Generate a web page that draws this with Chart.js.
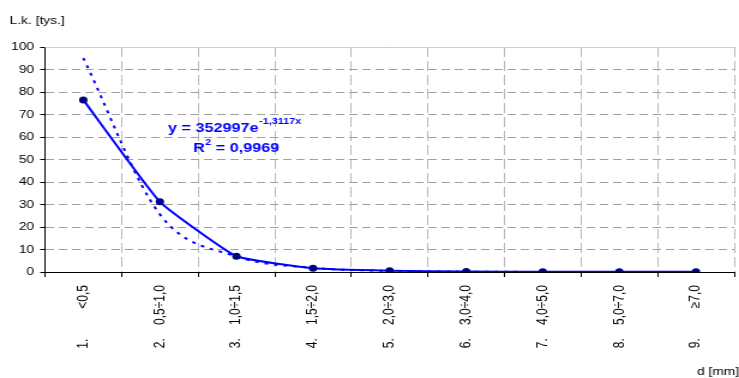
<!DOCTYPE html>
<html>
<head>
<meta charset="utf-8">
<script src="https://cdn.jsdelivr.net/npm/chart.js@4/dist/chart.umd.min.js"></script>
<style>
  html, body { margin: 0; padding: 0; background: #fff; overflow: hidden; }
  #wrap { width: 616px; height: 378px; transform: scaleX(1.1997); transform-origin: 0 0; }
</style>
</head>
<body>
<div id="wrap"><canvas id="chart" width="616" height="378"></canvas></div>
<script>
// Diameter classes and their ordinal numbers
const classNumbers = ['1.', '2.', '3.', '4.', '5.', '6.', '7.', '8.', '9.'];
const categories = ['<0,5', '0,5÷1,0', '1,0÷1,5', '1,5÷2,0', '2,0÷3,0', '3,0÷4,0', '4,0÷5,0', '5,0÷7,0', '≥7,0'];

// Count per class, thousands
const counts = [76.5, 31.2, 7.0, 1.7, 0.6, 0.2, 0.1, 0.1, 0.1];

// Exponential trend y = 352997·e^(-1,3117x), in thousands, at x = 1..9
const trendValues = [95.1, 25.6, 6.9, 1.86, 0.50, 0.14, 0.04, 0.01, 0.003];

// Trend equation and fit quality
const fitFactor = '352997';
const fitExponent = '-1,3117x';
const fitR2 = '0,9969';

// Axis titles and value ticks
const yAxisTitle = 'L.k. [tys.]';
const xAxisTitle = 'd [mm]';
const yMin = 0, yMax = 100, yStep = 10;

const FONT = '"Liberation Sans", Arial, sans-serif';
const BLUE = '#0000ff';

// Pad ordinal and class range apart so every label has a similar length
const measureCtx = document.createElement('canvas').getContext('2d');
measureCtx.font = '12px ' + FONT;
function classLabel(i) {
  const head = classNumbers[i], tail = categories[i];
  const spaceW = measureCtx.measureText(' ').width;
  const used = measureCtx.measureText(head + tail).width;
  const n = Math.max(3, Math.round((64 - used) / spaceW));
  return head + ' '.repeat(n) + tail;
}

const textPlugin = {
  id: 'chartTexts',
  beforeDatasetsDraw(chart) {
    // faint frame line along the top of the plot
    const { ctx, chartArea: a } = chart;
    ctx.save();
    ctx.strokeStyle = '#cfcfcf';
    ctx.lineWidth = 1;
    ctx.beginPath();
    ctx.moveTo(a.left, Math.round(a.top) + 0.5);
    ctx.lineTo(a.right, Math.round(a.top) + 0.5);
    ctx.stroke();
    ctx.restore();
  },
  afterDraw(chart) {
    const ctx = chart.ctx;
    ctx.save();
    ctx.fillStyle = '#000';
    ctx.textBaseline = 'alphabetic';
    ctx.textAlign = 'left';
    ctx.font = '11.5px ' + FONT;
    ctx.fillText(yAxisTitle, 8, 24);
    ctx.fillText(xAxisTitle, 581, 375);

    // trend equation
    ctx.fillStyle = BLUE;
    const big = 'bold 13.5px ' + FONT;
    const small = 'bold 9px ' + FONT;
    let x = 140;
    ctx.font = big;
    const eqMain = 'y = ' + fitFactor + 'e';
    ctx.fillText(eqMain, x, 132);
    x += ctx.measureText(eqMain).width + 0.5;
    ctx.font = small;
    ctx.fillText(fitExponent, x, 124);

    x = 161;
    ctx.font = big;
    ctx.fillText('R', x, 152);
    x += ctx.measureText('R').width + 0.3;
    ctx.font = small;
    ctx.fillText('2', x, 145);
    x += ctx.measureText('2').width;
    ctx.font = big;
    ctx.fillText(' = ' + fitR2, x, 152);
    ctx.restore();
  }
};

new Chart(document.getElementById('chart'), {
  type: 'line',
  data: {
    labels: categories.map((c, i) => classLabel(i)),
    datasets: [
      {
        label: 'L.k.',
        data: counts,
        borderColor: BLUE,
        borderWidth: 2,
        tension: 0.12,
        pointRadius: 3.5,
        pointBackgroundColor: '#000080',
        pointBorderColor: '#000080',
        pointBorderWidth: 0,
        fill: false
      },
      {
        label: 'Trend',
        data: trendValues,
        borderColor: BLUE,
        borderWidth: 2,
        borderDash: [3, 5],
        cubicInterpolationMode: 'monotone',
        pointRadius: 0,
        fill: false
      }
    ]
  },
  plugins: [textPlugin],
  options: {
    responsive: false,
    animation: false,
    devicePixelRatio: 1,
    layout: { padding: { left: 0, right: 1, top: 47, bottom: 0 } },
    plugins: {
      legend: { display: false },
      tooltip: { enabled: false },
      title: { display: false }
    },
    scales: {
      x: {
        type: 'category',
        offset: true,
        afterFit(scale) { scale.height = 106; },
        grid: {
          offset: true,
          color: (c) => (c.index === 0 || c.index >= categories.length) ? 'rgba(0,0,0,0)' : '#b8b8b8',
          lineWidth: 1,
          tickLength: 5,
          tickColor: (c) => c.index >= categories.length ? 'rgba(0,0,0,0)' : '#000',
          tickBorderDash: []
        },
        border: { display: true, color: '#000', width: 1, dash: [10, 4] },
        ticks: {
          color: '#000',
          font: { family: FONT, size: 12 },
          minRotation: 90,
          maxRotation: 90,
          autoSkip: false,
          padding: 8
        }
      },
      y: {
        min: yMin,
        max: yMax,
        afterFit(scale) { scale.width = 37.5; },
        grid: {
          color: (c) => c.index === 0 ? 'rgba(0,0,0,0)' : '#a0a0a0',
          lineWidth: 1,
          tickLength: 4,
          tickColor: '#000',
          tickBorderDash: []
        },
        border: { display: true, color: '#000', width: 1, dash: [7, 4] },
        ticks: {
          stepSize: yStep,
          color: '#000',
          font: { family: FONT, size: 11.5 },
          padding: 5
        }
      }
    }
  }
});
</script>
</body>
</html>
